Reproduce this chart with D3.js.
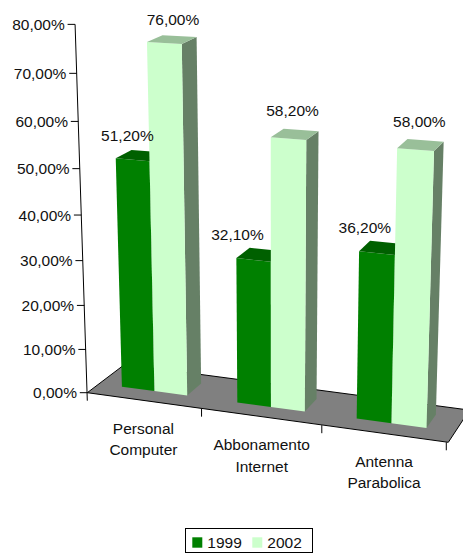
<!DOCTYPE html>
<html>
<head>
<meta charset="utf-8">
<script src="https://d3js.org/d3.v7.min.js"></script>
<style>
  html, body { margin: 0; padding: 0; background: #fff; overflow: hidden; }
  svg { display: block; }
  text { font-family: "Liberation Sans", Arial, sans-serif; font-size: 15.5px; fill: #111; }
</style>
</head>
<body>
<svg id="chart" width="463" height="553"></svg>
<script>
const categories = [["Personal", "Computer"], ["Abbonamento", "Internet"], ["Antenna", "Parabolica"]];
const seriesNames = ["1999", "2002"];
const values1999 = [51.2, 32.1, 36.2];
const values2002 = [76.0, 58.2, 58.0];
const valueTicks = [0, 10, 20, 30, 40, 50, 60, 70, 80];

const frontColors = ["#008000", "#ccffcc"];
const topColors = ["#006000", "#99bf99"];
const sideColors = ["#004000", "#668066"];

const svg = d3.select("#chart");

// floor plane: unit square (u along categories, v into the page) to screen
const hom = { a: 338.55, b: 43.64, c: 87.3, d: 27.45, e: -10.06, f: 392.7, g: -0.05007, h: 0.05006 };
function floorPoint(u, v) {
  const w = hom.g * u + hom.h * v + 1;
  return [(hom.a * u + hom.b * v + hom.c) / w, (hom.d * u + hom.e * v + hom.f) / w];
}

// value axis, verticals lean towards a point far below the chart
const vanish = [275, 6050];
const stretch = v => v / (1 - 0.000853 * v);

function project(u, v, value) {
  const base = floorPoint(u, v);
  const h = (4.29 + 0.32 * u - 0.15 * v) * stretch(value);
  const lean = (vanish[0] - base[0]) / (vanish[1] - base[1]);
  return [base[0] - lean * h, base[1] - h];
}

const bandU = d3.scaleBand().domain(d3.range(categories.length)).range([0, 0.99])
  .paddingInner(0.43).paddingOuter(0.2);
const depthFront = 0.31, depthBack = 0.725;
const path = pts => "M" + pts.map(p => p.map(n => n.toFixed(2)).join(",")).join("L") + "Z";

// floor
svg.append("path")
  .attr("d", path([floorPoint(0, 0), floorPoint(1, 0), floorPoint(1, 1), floorPoint(0, 1)]))
  .attr("fill", "#808080")
  .attr("stroke", "#000")
  .attr("stroke-width", 1);

// axis line and ticks
const axisTop = project(0, 0, 80);
const axisBottom = project(0, 0, 0);
svg.append("line")
  .attr("x1", axisTop[0]).attr("y1", axisTop[1])
  .attr("x2", axisBottom[0]).attr("y2", axisBottom[1] + 8)
  .attr("stroke", "#000");

const fmt = d3.formatLocale({ decimal: ",", thousands: ".", grouping: [3], currency: ["", ""] }).format(".2f");

valueTicks.forEach(t => {
  const p = project(0, 0, t);
  svg.append("line")
    .attr("x1", p[0] - 7.5).attr("y1", p[1])
    .attr("x2", p[0]).attr("y2", p[1])
    .attr("stroke", "#000");
  svg.append("text")
    .attr("x", p[0] - 10.3).attr("y", p[1] + 5.6)
    .attr("text-anchor", "end")
    .text(fmt(t) + "%");
});

// category ticks along the front edge
d3.range(1, categories.length + 1).forEach(i => {
  const p = floorPoint(i / categories.length, 0);
  svg.append("line")
    .attr("x1", p[0] - 2).attr("y1", p[1])
    .attr("x2", p[0] - 2).attr("y2", p[1] + 8)
    .attr("stroke", "#000");
});

categories.forEach((lines, i) => {
  const p = floorPoint((i + 0.5) / categories.length, 0);
  lines.forEach((line, k) => {
    svg.append("text")
      .attr("x", p[0] - 1.5).attr("y", p[1] + 33 + k * 21.7)
      .attr("text-anchor", "middle")
      .text(line);
  });
});

// bars, the 1999 one first so the 2002 one sits over its top
[values1999, values2002].forEach((values, s) => {
  values.forEach((val, i) => {
    const w = bandU.bandwidth() / 2;
    const u0 = bandU(i) + s * w, u1 = u0 + w;
    const fl = project(u0, depthFront, val), fr = project(u1, depthFront, val);
    const bl = project(u0, depthBack, val), br = project(u1, depthBack, val);
    const flb = project(u0, depthFront, 0), frb = project(u1, depthFront, 0);
    const brb = project(u1, depthBack, 0);

    svg.append("path").attr("d", path([fr, br, brb, frb])).attr("fill", sideColors[s]);
    svg.append("path").attr("d", path([fl, fr, frb, flb])).attr("fill", frontColors[s]);
    svg.append("path").attr("d", path([fl, bl, br, fr])).attr("fill", topColors[s]);
  });
});

// value labels drawn last, the 51,20% one overlaps the next bar
// the labels sit a bit off centre in the original, so each gets a small shift
const labelShift = [
  [[-13, -20], [-22.6, -20], [-17.5, -20]],
  [[1, -20], [-2.3, -24], [-1.2, -24]]
];
[values1999, values2002].forEach((values, s) => {
  values.forEach((val, i) => {
    const w = bandU.bandwidth() / 2;
    const u0 = bandU(i) + s * w;
    const c = project(u0 + w / 2, (depthFront + depthBack) / 2, val);
    svg.append("text")
      .attr("x", c[0] + labelShift[s][i][0])
      .attr("y", c[1] + labelShift[s][i][1] + 5.6)
      .attr("text-anchor", "middle")
      .text(fmt(val) + "%");
  });
});

// legend
svg.append("rect")
  .attr("x", 185.5).attr("y", 528.5).attr("width", 127).attr("height", 24)
  .attr("fill", "#fff").attr("stroke", "#000");
seriesNames.forEach((name, s) => {
  const x = 192.3 + s * 60;
  svg.append("rect")
    .attr("x", x).attr("y", 537.3).attr("width", 10).attr("height", 10.4)
    .attr("fill", frontColors[s]);
  svg.append("text")
    .attr("x", x + 15).attr("y", 547.6)
    .text(name);
});
</script>
</body>
</html>
